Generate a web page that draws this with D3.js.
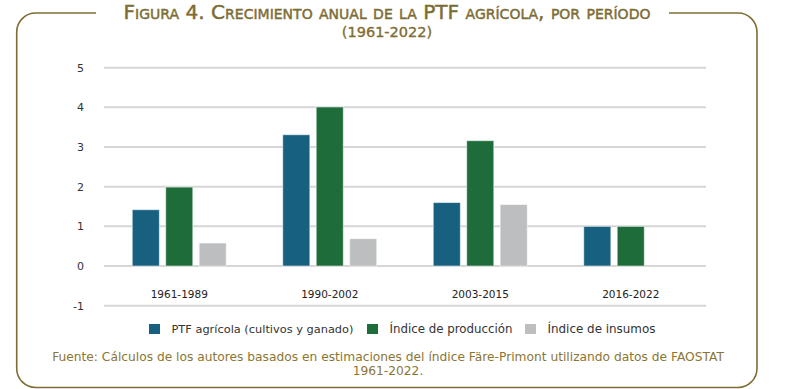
<!DOCTYPE html>
<html>
<head>
<meta charset="utf-8">
<script src="https://cdn.jsdelivr.net/npm/d3@7"></script>
<style>
  body { margin: 0; background: #fff; }
  svg { display: block; font-family: "DejaVu Sans", "Open Sans", sans-serif; }
</style>
</head>
<body>
<svg id="chart" width="789" height="389"></svg>
<script>
/* Figura 4 - crecimiento anual PTF agricola */

var PERIODS = ['1961-1989', '1990-2002', '2003-2015', '2016-2022'];
var SERIES = ['PTF agrícola (cultivos y ganado)', 'Índice de producción', 'Índice de insumos'];
var PTF = [1.42, 3.31, 1.6, 1.0];
var PRODUCCION = [1.99, 4.01, 3.16, 1.0];
var INSUMOS = [0.58, 0.69, 1.55, null];
var Y_TICKS = [-1, 0, 1, 2, 3, 4, 5];

var COLORS = ['#17607f', '#1e6c3a', '#bdbebf'];
var GOLD = '#7d6d34';

var svg = d3.select('#chart');

// fit a text node to a target width by scaling font-size
function fitWidth(sel, target) {
    var fs = parseFloat(sel.attr('font-size'));
    var w = sel.node().getComputedTextLength();
    if (w > 0) sel.attr('font-size', (fs * target / w).toFixed(2));
    return sel;
}

// Frame with gap for the title
var L = 16.7, R = 757, T = 13, B = 387.5, r = 19;
var framePath = d3.path();
framePath.moveTo(96, T);
framePath.lineTo(L + r, T);
framePath.arcTo(L, T, L, T + r, r);
framePath.lineTo(L, B - r);
framePath.arcTo(L, B, L + r, B, r);
framePath.lineTo(R - r, B);
framePath.arcTo(R, B, R, B - r, r);
framePath.lineTo(R, T + r);
framePath.arcTo(R, T, R - r, T, r);
framePath.lineTo(669, T);
svg.append('path')
    .attr('d', framePath.toString())
    .attr('fill', 'none')
    .attr('stroke', GOLD)
    .attr('stroke-width', 1.6);

// Title (thin stroke to get a medium weight)
var t1 = svg.append('text')
    .attr('x', 387).attr('y', 19)
    .attr('text-anchor', 'middle')
    .attr('font-size', 14)
    .attr('fill', GOLD)
    .attr('stroke', GOLD)
    .attr('stroke-width', 0.45)
    .style('font-variant', 'small-caps')
    .text('Figura 4. Crecimiento anual de la PTF agrícola, por período');
fitWidth(t1, 537);
svg.append('text')
    .attr('x', 387).attr('y', 37)
    .attr('text-anchor', 'middle')
    .attr('font-size', 14.5)
    .attr('fill', GOLD)
    .attr('stroke', GOLD)
    .attr('stroke-width', 0.35)
    .text('(1961-2022)');

// Scales
var x0 = d3.scaleBand().domain(PERIODS).range([104, 706]);
var x1 = d3.scaleBand().domain(d3.range(SERIES.length)).range([-47, 47]).paddingInner(0.19);
var y = d3.scaleLinear().domain([-1, 5]).range([305.7, 67.7]);

// Grid
svg.append('g').selectAll('line').data(Y_TICKS).enter().append('line')
    .attr('x1', 104).attr('x2', 706)
    .attr('y1', function(d) { return y(d); })
    .attr('y2', function(d) { return y(d); })
    .attr('stroke', '#d6d6d6')
    .attr('stroke-width', 2);

// Y axis labels
var yAxis = svg.append('g')
    .attr('transform', 'translate(84,0)')
    .call(d3.axisLeft(y).tickValues(Y_TICKS).tickSize(0).tickPadding(0)
        .tickFormat(function(d) { return String(d); }));
yAxis.select('.domain').remove();
yAxis.selectAll('text')
    .attr('font-size', 11)
    .attr('font-family', '"DejaVu Sans", sans-serif')
    .attr('fill', '#333');

// Bars
var seriesData = [PTF, PRODUCCION, INSUMOS];
var groups = svg.append('g').selectAll('g').data(PERIODS).enter().append('g')
    .attr('transform', function(d) { return 'translate(' + (x0(d) + x0.bandwidth() / 2) + ',0)'; });

groups.selectAll('rect')
    .data(function(d, i) {
        return seriesData.map(function(s, k) { return { k: k, v: s[i] }; })
            .filter(function(e) { return e.v !== null; });
    })
    .enter().append('rect')
    .attr('x', function(d) { return x1(d.k); })
    .attr('width', x1.bandwidth())
    .attr('y', function(d) { return y(Math.max(0, d.v)); })
    .attr('height', function(d) { return Math.abs(y(d.v) - y(0)); })
    .attr('fill', function(d) { return COLORS[d.k]; })
    .attr('stroke', 'rgba(255,255,255,0.55)')
    .attr('stroke-width', 1);

// Category labels
groups.append('text')
    .attr('y', 298)
    .attr('text-anchor', 'middle')
    .attr('font-size', 10.5)
    .attr('fill', '#222')
    .text(function(d) { return d; });

// Legend
var LEG_X = [149, 367, 525];
var LEG_W = [182, 123, 108];
var legend = svg.append('g').selectAll('g').data(SERIES).enter().append('g')
    .attr('transform', function(d, i) { return 'translate(' + LEG_X[i] + ',324)'; });
legend.append('rect')
    .attr('width', 11).attr('height', 10)
    .attr('fill', function(d, i) { return COLORS[i]; });
legend.append('text')
    .attr('x', 22.5).attr('y', 8.5)
    .attr('font-size', 11)
    .attr('fill', '#333')
    .text(function(d) { return d; })
    .each(function(d, i) { fitWidth(d3.select(this), LEG_W[i]); });

// Source
var s1 = svg.append('text')
    .attr('x', 388).attr('y', 361)
    .attr('text-anchor', 'middle')
    .attr('font-size', 12)
    .attr('fill', '#8a7632')
    .text('Fuente: Cálculos de los autores basados en estimaciones del índice Färe-Primont utilizando datos de FAOSTAT');
fitWidth(s1, 672);
svg.append('text')
    .attr('x', 388).attr('y', 375)
    .attr('text-anchor', 'middle')
    .attr('font-size', s1.attr('font-size'))
    .attr('fill', '#8a7632')
    .text('1961-2022.');
</script>
</body>
</html>
